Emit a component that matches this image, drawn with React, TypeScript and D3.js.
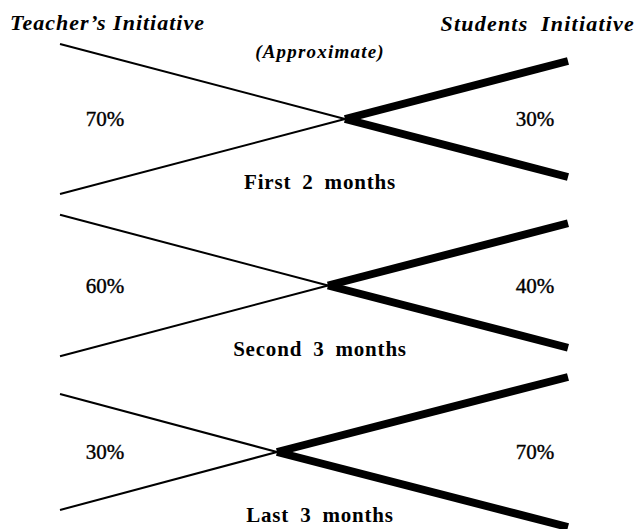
import React from 'react';
import * as d3 from 'd3';

// Data
const periods = ['First 2 months', 'Second 3 months', 'Last 3 months'];
const teacherShare = [70, 60, 30];
const studentShare = [30, 40, 70];

const W = 638;
const H = 529;

const App: React.FC = () => {
  // vertical centre of each fan
  const yScale = d3.scalePoint<string>().domain(periods).range([119, 452]);
  // where the two lines cross, by teacher share
  const crossX = d3.scaleLinear().domain([30, 70]).range([277, 345]);
  // half-opening of each side of the fan, by share
  const spread = d3.scaleLinear().domain([30, 70]).range([58, 75]);

  const xLeft = 60;
  const xRight = 568;

  const line = d3.line<[number, number]>();
  const font = '"Liberation Serif", "DejaVu Serif", serif';

  return (
    <div style={{ position: 'absolute', left: 0, top: 0 }}>
      <svg width={W} height={H} style={{ display: 'block', background: '#fff' }}>
        <text x={10} y={30} fontFamily={font} fontStyle="italic" fontWeight="bold" fontSize={22} letterSpacing={1}>
          Teacher’s Initiative
        </text>
        <text x={635} y={31} textAnchor="end" fontFamily={font} fontStyle="italic" fontWeight="bold" fontSize={22}
          letterSpacing={1.2} wordSpacing={6}>
          Students Initiative
        </text>
        <text x={320} y={58} textAnchor="middle" fontFamily={font} fontStyle="italic" fontWeight="bold" fontSize={19}
          letterSpacing={1.2}>
          (Approximate)
        </text>

        {periods.map((p, i) => {
          const cy = yScale(p) as number;
          const cx = crossX(teacherShare[i]);
          const sL = spread(teacherShare[i]);
          const sR = spread(studentShare[i]);
          return (
            <g key={p}>
              {/* teacher side: thin */}
              <path d={line([[xLeft, cy - sL], [cx, cy]]) as string} stroke="#000" strokeWidth={2} fill="none" />
              <path d={line([[xLeft, cy + sL], [cx, cy]]) as string} stroke="#000" strokeWidth={2} fill="none" />
              {/* students side: thick */}
              <path d={line([[cx, cy], [xRight, cy - sR]]) as string} stroke="#000" strokeWidth={8} fill="none" />
              <path d={line([[cx, cy], [xRight, cy + sR]]) as string} stroke="#000" strokeWidth={8} fill="none" />

              <text x={105} y={cy + 7} textAnchor="middle" fontFamily={font} fontSize={21}
                stroke="#000" strokeWidth={0.4}>
                {teacherShare[i]}%
              </text>
              <text x={535} y={cy + 7} textAnchor="middle" fontFamily={font} fontSize={21}
                stroke="#000" strokeWidth={0.4}>
                {studentShare[i]}%
              </text>
              <text x={320} y={cy + 70} textAnchor="middle" fontFamily={font} fontWeight="bold" fontSize={21}
                letterSpacing={0.8} wordSpacing={5}>
                {p}
              </text>
            </g>
          );
        })}
      </svg>
    </div>
  );
};

export default App;
